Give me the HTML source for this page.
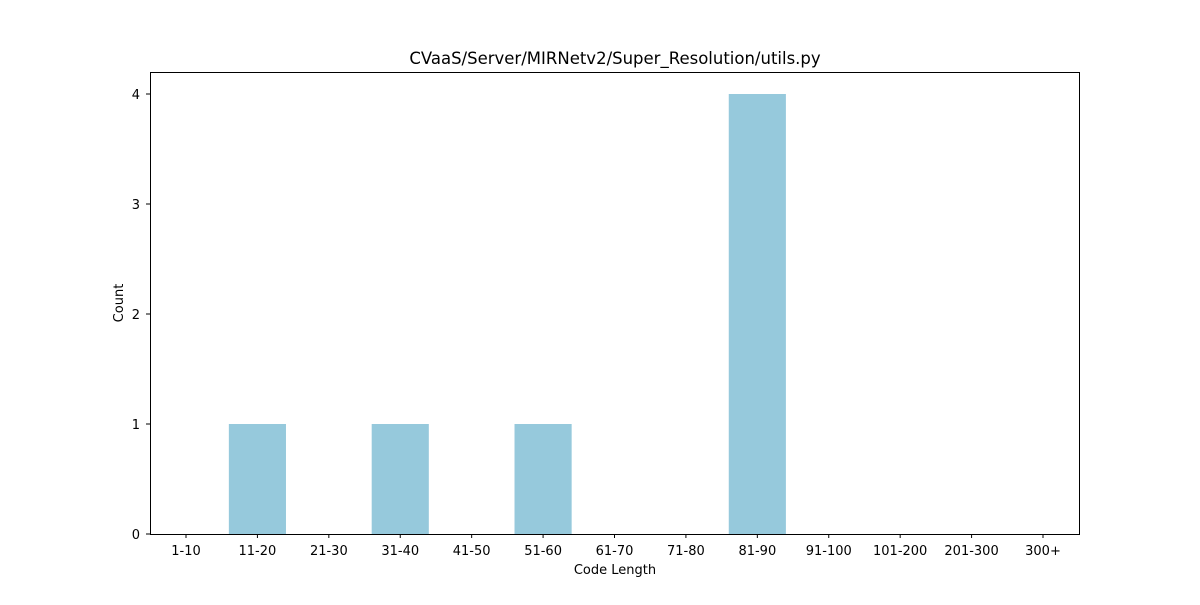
<!DOCTYPE html>
<html><head><meta charset="utf-8"><style>
body{margin:0;background:#fff;}
text{font-family:"DejaVu Sans","Liberation Sans",sans-serif;fill:#000;}
</style></head><body>
<svg id="chart" width="1200" height="600" xmlns="http://www.w3.org/2000/svg">
<rect width="1200" height="600" fill="#fff"/>
<text x="615" y="64" font-size="16.5" text-anchor="middle">CVaaS/Server/MIRNetv2/Super_Resolution/utils.py</text>
<g id="bars"></g>
<g id="xticks"></g>
<g id="yticks"></g>
<rect x="150.5" y="72.5" width="929" height="462" fill="none" stroke="#000" stroke-width="1"/>
<text x="615" y="574" font-size="13" text-anchor="middle">Code Length</text>
<text x="123" y="303" font-size="13" text-anchor="middle" transform="rotate(-90 123 303)">Count</text>
</svg>
<script>
const categories=["1-10","11-20","21-30","31-40","41-50","51-60","61-70","71-80","81-90","91-100","101-200","201-300","300+"];
const counts=[0,1,0,1,0,1,0,0,4,0,0,0,0];
const yTicks=[0,1,2,3,4];
const NS="http://www.w3.org/2000/svg";
const x0=186,step=(1043-186)/12,bw=step*0.8;
const xPos=i=>x0+i*step;
const yPos=v=>534-v*110;
const bars=document.getElementById('bars'),xt=document.getElementById('xticks'),yt=document.getElementById('yticks');
categories.forEach((c,i)=>{
  if(counts[i]>0){
    const r=document.createElementNS(NS,'rect');
    r.setAttribute('x',xPos(i)-bw/2);r.setAttribute('y',yPos(counts[i]));
    r.setAttribute('width',bw);r.setAttribute('height',yPos(0)-yPos(counts[i]));
    r.setAttribute('fill','#96c9dc');
    
    
    bars.appendChild(r);
  }
  const l=document.createElementNS(NS,'line');
  l.setAttribute('x1',xPos(i));l.setAttribute('x2',xPos(i));l.setAttribute('y1',534);l.setAttribute('y2',538);l.setAttribute('stroke','#000');
  
  
  xt.appendChild(l);
  const t=document.createElementNS(NS,'text');
  t.setAttribute('x',xPos(i));t.setAttribute('y',555);t.setAttribute('font-size','13');t.setAttribute('text-anchor','middle');
  t.textContent=c;
  
  
  xt.appendChild(t);
});
yTicks.forEach(v=>{
  const l=document.createElementNS(NS,'line');
  l.setAttribute('x1',146);l.setAttribute('x2',150);l.setAttribute('y1',yPos(v));l.setAttribute('y2',yPos(v));l.setAttribute('stroke','#000');
  
  
  yt.appendChild(l);
  const t=document.createElementNS(NS,'text');
  t.setAttribute('x',140);t.setAttribute('y',yPos(v)+5);t.setAttribute('font-size','13');t.setAttribute('text-anchor','end');
  t.textContent=v;
  
  
  yt.appendChild(t);
});
</script>
</body></html>
